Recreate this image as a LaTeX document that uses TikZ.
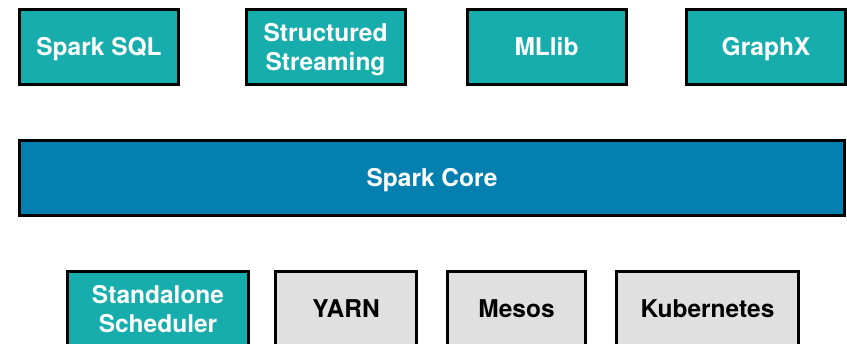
\documentclass[tikz,border=0pt]{standalone}
\usepackage{fontspec}
\setmainfont{TeX Gyre Heros}
\definecolor{teal1}{RGB}{23,173,172}
\definecolor{coreblue}{RGB}{3,127,176}
\definecolor{gray1}{RGB}{224,224,224}
\begin{document}
\begin{tikzpicture}[x=1bp,y=-1bp,
  box/.style={draw=black,line width=3bp,rectangle,inner sep=0pt,align=center,
    font=\bfseries\fontsize{24.5bp}{29bp}\selectfont,text height=17.6bp,text depth=0pt},
  twoline/.style={text height=46.6bp,text depth=0pt},
  libbox/.style={box,fill=teal1,text=white,minimum width=159bp,minimum height=75bp},
  corebox/.style={box,fill=coreblue,text=white,minimum width=825bp,minimum height=75bp},
  mgrbox/.style={box,fill=gray1,text=black,minimum height=75bp},
  mgrteal/.style={box,fill=teal1,text=white,minimum height=75bp}]
\useasboundingbox (0,0) rectangle (847,343);
\clip (0,0) rectangle (847,343);
\node[libbox] (sql) at (99,47) {Spark SQL};
\node[libbox,twoline] (ss) at (325.5,47) {Structured\\Streaming};
\node[libbox] (ml) at (546.5,47) {MLlib};
\node[libbox] (gx) at (766,47) {GraphX};
\node[corebox] (core) at (432,178) {Spark Core};
\node[mgrteal,twoline,minimum width=181bp] (sa) at (158,309) {Standalone\\Scheduler};
\node[mgrbox,minimum width=141bp] (yarn) at (346,309) {YARN};
\node[mgrbox,minimum width=138bp] (mesos) at (516.5,309) {Mesos};
\node[mgrbox,minimum width=182bp] (k8s) at (707.5,309) {Kubernetes};
\end{tikzpicture}
\end{document}
